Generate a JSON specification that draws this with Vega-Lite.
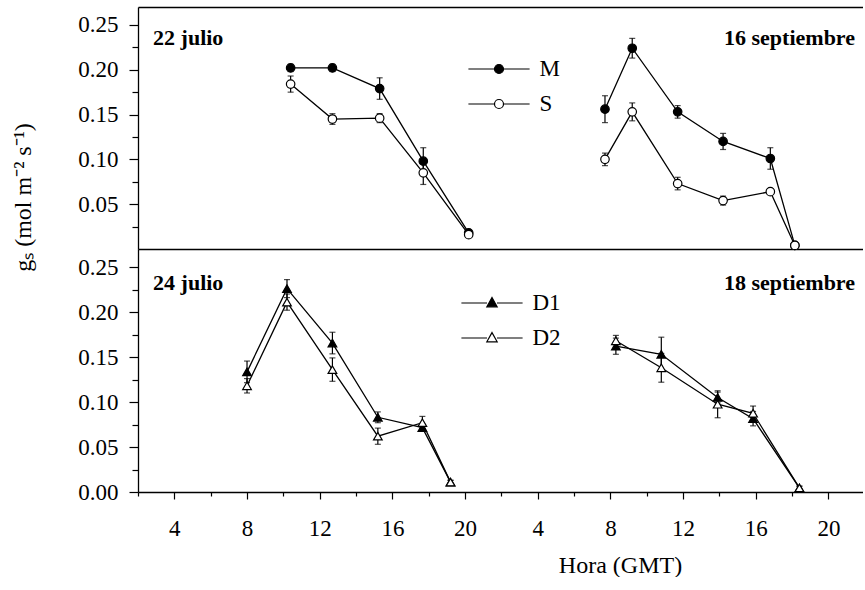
{
  "$schema": "https://vega.github.io/schema/vega-lite/v6.json",
  "padding": {"left": 11, "top": 7, "right": 0, "bottom": 0},
  "config": {
    "font": "Liberation Serif",
    "view": {"stroke": null},
    "axis": {"domainColor": "black", "domainWidth": 1.3, "tickColor": "black", "tickWidth": 1.2, "labelColor": "black", "labelFont": "Liberation Serif", "labelFontSize": 23, "titleFont": "Liberation Serif", "titleFontSize": 24, "titleFontWeight": "normal", "titleColor": "black", "grid": false, "labelOverlap": false, "labelFlush": false, "labelBound": false},
    "legend": {"orient": "none", "title": null, "padding": 0, "labelFont": "Liberation Serif", "labelFontSize": 23, "labelColor": "black", "symbolSize": 81, "symbolStrokeColor": "black", "symbolStrokeWidth": 1.2, "symbolOpacity": 1, "labelOffset": 29, "rowPadding": 11, "labelLimit": 0}
  },
  "datasets": {
    "g": [
      {"p": "top", "seg": 1, "serie": "M", "hora": 10.4, "gs": 0.202, "err": 0.004},
      {"p": "top", "seg": 1, "serie": "M", "hora": 12.7, "gs": 0.202, "err": 0.004},
      {"p": "top", "seg": 1, "serie": "M", "hora": 15.3, "gs": 0.179, "err": 0.012},
      {"p": "top", "seg": 1, "serie": "M", "hora": 17.7, "gs": 0.098, "err": 0.015},
      {"p": "top", "seg": 1, "serie": "M", "hora": 20.2, "gs": 0.018, "err": 0.003},
      {"p": "top", "seg": 1, "serie": "S", "hora": 10.4, "gs": 0.184, "err": 0.009},
      {"p": "top", "seg": 1, "serie": "S", "hora": 12.7, "gs": 0.145, "err": 0.006},
      {"p": "top", "seg": 1, "serie": "S", "hora": 15.3, "gs": 0.146, "err": 0.005},
      {"p": "top", "seg": 1, "serie": "S", "hora": 17.7, "gs": 0.085, "err": 0.013},
      {"p": "top", "seg": 1, "serie": "S", "hora": 20.2, "gs": 0.016, "err": 0.003},
      {"p": "top", "seg": 2, "serie": "M", "hora": 7.7, "gs": 0.156, "err": 0.015},
      {"p": "top", "seg": 2, "serie": "M", "hora": 9.2, "gs": 0.224, "err": 0.011},
      {"p": "top", "seg": 2, "serie": "M", "hora": 11.7, "gs": 0.153, "err": 0.007},
      {"p": "top", "seg": 2, "serie": "M", "hora": 14.2, "gs": 0.120, "err": 0.009},
      {"p": "top", "seg": 2, "serie": "M", "hora": 16.8, "gs": 0.101, "err": 0.012},
      {"p": "top", "seg": 2, "serie": "M", "hora": 18.15, "gs": 0.004, "err": 0.002},
      {"p": "top", "seg": 2, "serie": "S", "hora": 7.7, "gs": 0.100, "err": 0.007},
      {"p": "top", "seg": 2, "serie": "S", "hora": 9.2, "gs": 0.153, "err": 0.010},
      {"p": "top", "seg": 2, "serie": "S", "hora": 11.7, "gs": 0.073, "err": 0.007},
      {"p": "top", "seg": 2, "serie": "S", "hora": 14.2, "gs": 0.054, "err": 0.005},
      {"p": "top", "seg": 2, "serie": "S", "hora": 16.8, "gs": 0.064, "err": 0.003},
      {"p": "top", "seg": 2, "serie": "S", "hora": 18.15, "gs": 0.004, "err": 0.002},
      {"p": "bot", "seg": 1, "serie": "D1", "hora": 8.0, "gs": 0.1335, "err": 0.012},
      {"p": "bot", "seg": 1, "serie": "D1", "hora": 10.2, "gs": 0.226, "err": 0.010},
      {"p": "bot", "seg": 1, "serie": "D1", "hora": 12.7, "gs": 0.1655, "err": 0.012},
      {"p": "bot", "seg": 1, "serie": "D1", "hora": 15.2, "gs": 0.083, "err": 0.006},
      {"p": "bot", "seg": 1, "serie": "D1", "hora": 17.65, "gs": 0.0715, "err": 0.004},
      {"p": "bot", "seg": 1, "serie": "D1", "hora": 19.2, "gs": 0.011, "err": 0.002},
      {"p": "bot", "seg": 1, "serie": "D2", "hora": 8.0, "gs": 0.118, "err": 0.008},
      {"p": "bot", "seg": 1, "serie": "D2", "hora": 10.2, "gs": 0.211, "err": 0.009},
      {"p": "bot", "seg": 1, "serie": "D2", "hora": 12.7, "gs": 0.136, "err": 0.013},
      {"p": "bot", "seg": 1, "serie": "D2", "hora": 15.2, "gs": 0.062, "err": 0.009},
      {"p": "bot", "seg": 1, "serie": "D2", "hora": 17.65, "gs": 0.077, "err": 0.007},
      {"p": "bot", "seg": 1, "serie": "D2", "hora": 19.2, "gs": 0.011, "err": 0.002},
      {"p": "bot", "seg": 2, "serie": "D1", "hora": 8.3, "gs": 0.162, "err": 0.009},
      {"p": "bot", "seg": 2, "serie": "D1", "hora": 10.8, "gs": 0.153, "err": 0.019},
      {"p": "bot", "seg": 2, "serie": "D1", "hora": 13.9, "gs": 0.105, "err": 0.006},
      {"p": "bot", "seg": 2, "serie": "D1", "hora": 15.85, "gs": 0.0815, "err": 0.008},
      {"p": "bot", "seg": 2, "serie": "D1", "hora": 18.4, "gs": 0.0045, "err": 0.002},
      {"p": "bot", "seg": 2, "serie": "D2", "hora": 8.3, "gs": 0.168, "err": 0.006},
      {"p": "bot", "seg": 2, "serie": "D2", "hora": 10.8, "gs": 0.138, "err": 0.016},
      {"p": "bot", "seg": 2, "serie": "D2", "hora": 13.9, "gs": 0.0975, "err": 0.015},
      {"p": "bot", "seg": 2, "serie": "D2", "hora": 15.85, "gs": 0.0875, "err": 0.008},
      {"p": "bot", "seg": 2, "serie": "D2", "hora": 18.4, "gs": 0.0045, "err": 0.002}
    ],
    "notas": [
      {"p": "top", "lado": "izq", "label": "22 julio"},
      {"p": "top", "lado": "der", "label": "16 septiembre"},
      {"p": "bot", "lado": "izq", "label": "24 julio"},
      {"p": "bot", "lado": "der", "label": "18 septiembre"}
    ]
  },
  "spacing": 0,
  "bounds": "flush",
  "resolve": {"scale": {"fill": "independent"}, "legend": {"fill": "independent"}},
  "vconcat": [
    {
      "width": 725,
      "height": 242,
      "resolve": {"axis": {"x": "independent", "y": "independent"}},
      "layer": [
        {
          "data": {"name": "g"},
          "transform": [
            {"filter": "datum.p == 'top'"},
            {"calculate": "datum.seg == 2 ? datum.hora + 20 : datum.hora", "as": "t"}
          ],
          "encoding": {
            "x": {"field": "t", "type": "quantitative", "scale": {"domain": [2, 41.9], "nice": false, "zero": false}, "axis": null},
            "y": {"field": "gs", "type": "quantitative", "scale": {"domain": [0, 0.27], "nice": false, "zero": false},
              "axis": {
                "orient": "left",
                "values": [0.05, 0.1, 0.15, 0.2, 0.25],
                "format": ".2f",
                "tickSize": 9,
                "labelPadding": 11,
                "title": "gₛ (mol m⁻² s⁻¹)",
                "titleAngle": -90, "titleX": -115, "titleY": 190, "titleAlign": "center", "titleBaseline": "middle"
              }}
          },
          "layer": [
            {
              "mark": {"type": "errorbar", "ticks": {"size": 6}, "thickness": 1.2, "color": "black"},
              "encoding": {"yError": {"field": "err"}, "detail": {"field": "serie"}}
            },
            {
              "mark": {"type": "line", "color": "black", "strokeWidth": 1.3},
              "encoding": {
                "x": {"field": "t", "type": "quantitative", "scale": {"domain": [2, 41.9], "nice": false, "zero": false}, "axis": {"orient": "top", "labels": false, "ticks": false, "title": null}},
                "detail": [{"field": "serie"}, {"field": "seg"}]
              }
            },
            {
              "mark": {"type": "point", "shape": "circle", "filled": true, "size": 72, "stroke": "black", "strokeWidth": 1.2, "opacity": 1},
              "encoding": {
                "x": {"field": "t", "type": "quantitative", "scale": {"domain": [2, 41.9], "nice": false, "zero": false}, "axis": {"orient": "bottom", "labels": false, "ticks": false, "title": null}},
                "fill": {"field": "serie", "type": "nominal", "scale": {"domain": ["M", "S"], "range": ["black", "white"]},
                  "legend": {"symbolType": "M-6.8,0H-1M1,0H6.8M-1,0A1,1 0 1 0 1,0A1,1 0 1 0 -1,0Z", "legendX": 349.5, "legendY": 50.5}}
              }
            }
          ]
        },
        {
          "data": {"name": "notas"},
          "transform": [{"filter": "datum.p == 'top' && datum.lado == 'izq'"}],
          "mark": {"type": "text", "align": "left", "baseline": "alphabetic", "fontSize": 22, "fontWeight": "bold", "color": "black"},
          "encoding": {
            "x": {"datum": 2.83, "type": "quantitative", "axis": null},
            "y": {"datum": 0.2276, "type": "quantitative", "axis": {"orient": "left", "values": [0.025, 0.075, 0.125, 0.175, 0.225], "labels": false, "domain": false, "tickSize": 6, "title": null}},
            "text": {"field": "label"}
          }
        },
        {
          "data": {"name": "notas"},
          "transform": [{"filter": "datum.p == 'top' && datum.lado == 'der'"}],
          "mark": {"type": "text", "align": "right", "baseline": "alphabetic", "fontSize": 22, "fontWeight": "bold", "color": "black"},
          "encoding": {"x": {"datum": 41.46, "type": "quantitative", "axis": null}, "y": {"datum": 0.2276, "type": "quantitative", "axis": null}, "text": {"field": "label"}}
        }
      ]
    },
    {
      "width": 725,
      "height": 243,
      "resolve": {"axis": {"x": "independent", "y": "independent"}},
      "layer": [
        {
          "data": {"name": "g"},
          "transform": [
            {"filter": "datum.p == 'bot'"},
            {"calculate": "datum.seg == 2 ? datum.hora + 20 : datum.hora", "as": "t"}
          ],
          "encoding": {
            "x": {"field": "t", "type": "quantitative", "scale": {"domain": [2, 41.9], "nice": false, "zero": false},
              "axis": {
                "orient": "bottom",
                "values": [4, 8, 12, 16, 20, 24, 28, 32, 36, 40],
                "labelExpr": "datum.value > 22 ? '' + (datum.value - 20) : '' + datum.value",
                "tickSize": 7,
                "labelPadding": 18,
                "title": "Hora (GMT)",
                "titleX": 482, "titleY": 80, "titleAlign": "center", "titleBaseline": "alphabetic"
              }},
            "y": {"field": "gs", "type": "quantitative", "scale": {"domain": [0, 0.27], "nice": false, "zero": false},
              "axis": {
                "orient": "left",
                "values": [0, 0.05, 0.1, 0.15, 0.2, 0.25],
                "format": ".2f",
                "tickSize": 9,
                "labelPadding": 11,
                "title": null
              }}
          },
          "layer": [
            {
              "mark": {"type": "errorbar", "ticks": {"size": 6}, "thickness": 1.2, "color": "black"},
              "encoding": {"yError": {"field": "err"}, "detail": {"field": "serie"}}
            },
            {
              "mark": {"type": "line", "color": "black", "strokeWidth": 1.3},
              "encoding": {"detail": [{"field": "serie"}, {"field": "seg"}]}
            },
            {
              "mark": {"type": "point", "shape": "triangle-up", "filled": true, "size": 75, "stroke": "black", "strokeWidth": 1.2, "opacity": 1},
              "encoding": {
                "fill": {"field": "serie", "type": "nominal", "scale": {"domain": ["D1", "D2"], "range": ["black", "white"]},
                  "legend": {"symbolType": "M-6.8,0H-1.1M1.1,0H6.8M0,-1.2L1.15,0.85L-1.15,0.85Z", "legendX": 342.5, "legendY": 42.5}}
              }
            }
          ]
        },
        {
          "data": {"name": "notas"},
          "transform": [{"filter": "datum.p == 'bot' && datum.lado == 'izq'"}],
          "mark": {"type": "text", "align": "left", "baseline": "alphabetic", "fontSize": 22, "fontWeight": "bold", "color": "black"},
          "encoding": {
            "x": {"datum": 2.83, "type": "quantitative", "axis": null},
            "y": {"datum": 0.225, "type": "quantitative", "axis": {"orient": "left", "values": [0.025, 0.075, 0.125, 0.175, 0.225], "labels": false, "domain": false, "tickSize": 6, "title": null}},
            "text": {"field": "label"}
          }
        },
        {
          "data": {"name": "notas"},
          "transform": [{"filter": "datum.p == 'bot' && datum.lado == 'der'"}],
          "mark": {"type": "text", "align": "right", "baseline": "alphabetic", "fontSize": 22, "fontWeight": "bold", "color": "black"},
          "encoding": {
            "x": {"datum": 41.46, "type": "quantitative", "axis": {"orient": "bottom", "values": [2, 6, 10, 14, 18, 22, 26, 30, 34, 38], "labels": false, "domain": false, "tickSize": 4, "title": null}},
            "y": {"datum": 0.225, "type": "quantitative", "axis": null},
            "text": {"field": "label"}
          }
        }
      ]
    }
  ]
}
